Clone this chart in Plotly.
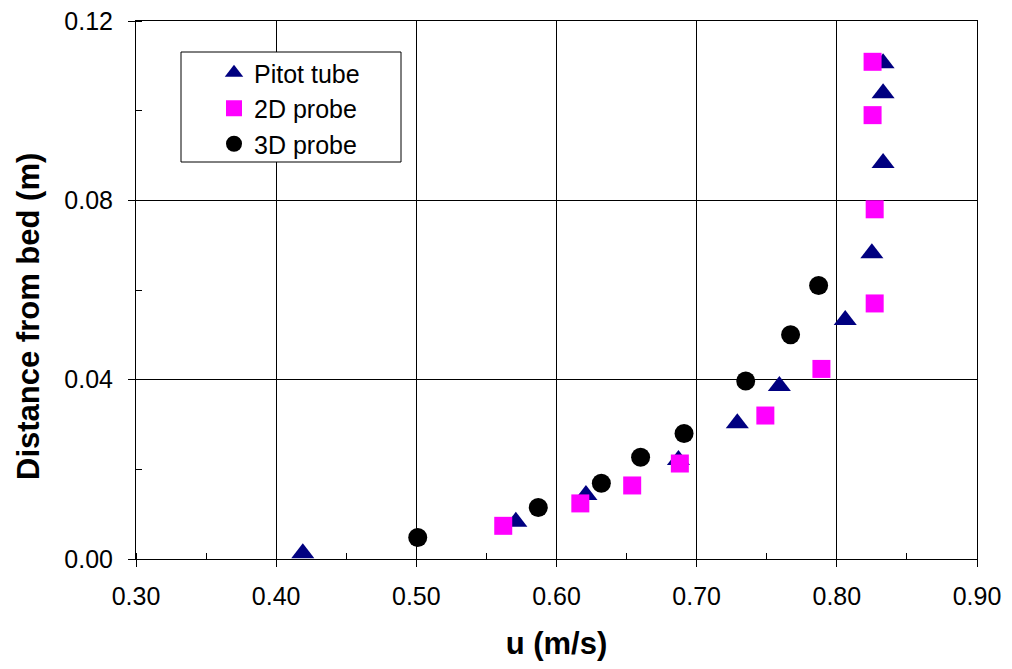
import plotly.graph_objects as go

pitot_u = [0.419, 0.571, 0.621, 0.687, 0.729, 0.759, 0.806, 0.825, 0.833, 0.833, 0.833]
pitot_z = [0.0013, 0.0083, 0.0143, 0.0221, 0.0303, 0.0386, 0.0533, 0.0682, 0.0883, 0.1039, 0.1106]

probe2d_u = [0.562, 0.617, 0.654, 0.688, 0.749, 0.789, 0.827, 0.827, 0.8255, 0.8255]
probe2d_z = [0.0074, 0.0124, 0.0164, 0.0213, 0.0320, 0.0424, 0.0570, 0.0780, 0.0990, 0.1109]

probe3d_u = [0.501, 0.587, 0.632, 0.660, 0.691, 0.735, 0.767, 0.787]
probe3d_z = [0.0048, 0.0115, 0.0169, 0.0227, 0.0280, 0.0397, 0.0500, 0.0610]

x_ticks = [0.30, 0.40, 0.50, 0.60, 0.70, 0.80, 0.90]
y_ticks = [0.00, 0.04, 0.08, 0.12]

x_title = "u (m/s)"
y_title = "Distance from bed (m)"

fig = go.Figure()
fig.add_trace(go.Scatter(x=pitot_u, y=pitot_z, mode="markers", name="Pitot tube",
                         marker=dict(symbol="triangle-up", size=20, color="#000080",
                                     line=dict(width=0))))
fig.add_trace(go.Scatter(x=probe2d_u, y=probe2d_z, mode="markers", name="2D probe",
                         marker=dict(symbol="square", size=18, color="#FF00FF",
                                     line=dict(width=0))))
fig.add_trace(go.Scatter(x=probe3d_u, y=probe3d_z, mode="markers", name="3D probe",
                         marker=dict(symbol="circle", size=19, color="#000000",
                                     line=dict(width=0))))

font_family = "Liberation Sans, Arial, sans-serif"

# legend frame (drawn as a shape, the legend itself is transparent)
fig.add_shape(type="rect", xref="paper", yref="paper",
              x0=(181 - 136) / 841, x1=(401 - 136) / 841,
              y0=(559 - 162) / 538, y1=(559 - 52) / 538,
              line=dict(color="black", width=1), fillcolor="white", layer="above")

# y-axis title placed as annotation (it sits below the plot centre in the reference)
fig.add_annotation(text=f"<b>{y_title}</b>", xref="paper", yref="paper",
                   x=(28 - 136) / 841, y=(559 - 317) / 538,
                   xanchor="center", yanchor="middle", textangle=-90, showarrow=False,
                   font=dict(size=31, family=font_family, color="black"))

fig.update_layout(
    width=996, height=653,
    margin=dict(l=128, r=27, t=13, b=102, autoexpand=False),
    paper_bgcolor="white", plot_bgcolor="white",
    font=dict(family=font_family, color="black", size=25),
    showlegend=True,
    legend=dict(x=(214 - 136) / 841, y=(559 - 50) / 538, xanchor="left", yanchor="top",
                bgcolor="rgba(0,0,0,0)", borderwidth=0,
                font=dict(size=25, family=font_family, color="black"),
                tracegroupgap=0),
    xaxis=dict(range=[0.30, 0.90], tickvals=x_ticks,
               ticktext=[f"{v:.2f}" for v in x_ticks],
               showgrid=True, gridcolor="black", gridwidth=1,
               showline=True, linecolor="black", linewidth=1, mirror=True,
               ticks="outside", ticklen=7, tickcolor="black",
               minor=dict(dtick=0.05, ticks="inside", ticklen=6, tickcolor="black", showgrid=False),
               zeroline=False, automargin=False, ticklabeloverflow="allow",
               ticklabelstandoff=8,
               title=dict(text=f"<b>{x_title}</b>", font=dict(size=31, family=font_family), standoff=40),
               tickfont=dict(size=25)),
    yaxis=dict(range=[0.0, 0.12], tickvals=y_ticks,
               ticktext=[f"{v:.2f}" for v in y_ticks],
               showgrid=True, gridcolor="black", gridwidth=1,
               showline=True, linecolor="black", linewidth=1, mirror=True,
               ticks="outside", ticklen=7, tickcolor="black",
               minor=dict(dtick=0.02, ticks="inside", ticklen=6, tickcolor="black", showgrid=False),
               zeroline=False, automargin=False, ticklabeloverflow="allow",
               ticklabelstandoff=10,
               tickfont=dict(size=25)),
)

fig.write_html("out.html")
